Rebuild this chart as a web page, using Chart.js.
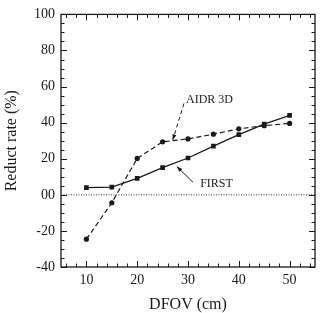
<!DOCTYPE html>
<html>
<head>
<meta charset="utf-8">
<script src="https://cdn.jsdelivr.net/npm/chart.js@4"></script>
<style>
  html, body { margin: 0; padding: 0; background: #fff; }
  #wrap { width: 322px; height: 313px; }
</style>
</head>
<body>
<div id="wrap"><canvas id="myChart"></canvas></div>
<script>
const dfov = [10, 15, 20, 25, 30, 35, 40, 45, 50];
const firstRate = [4.0, 4.3, 9.1, 15.1, 20.4, 27.0, 33.4, 39.2, 44.0];
const aidrRate = [-24.6, -4.4, 20.2, 29.4, 31.0, 33.6, 36.6, 38.3, 39.6];
const xTicks = [10, 20, 30, 40, 50];
const yTicks = [-40, -20, 0, 20, 40, 60, 80, 100];

const serif = 'Liberation Serif, Times New Roman, serif';
const ink = '#1a1a1a';

function toPoints(ys) {
    return dfov.map((x, i) => ({ x: x, y: ys[i] }));
}

function arrow(ctx, x1, y1, x2, y2, dashed) {
    ctx.save();
    ctx.strokeStyle = ink;
    ctx.fillStyle = ink;
    ctx.lineWidth = 1;
    ctx.setLineDash(dashed ? [4, 3] : []);
    ctx.beginPath();
    ctx.moveTo(x1, y1);
    ctx.lineTo(x2, y2);
    ctx.stroke();
    ctx.setLineDash([]);
    const a = Math.atan2(y2 - y1, x2 - x1);
    ctx.beginPath();
    ctx.moveTo(x2, y2);
    ctx.lineTo(x2 - 6 * Math.cos(a - 0.35), y2 - 6 * Math.sin(a - 0.35));
    ctx.lineTo(x2 - 6 * Math.cos(a + 0.35), y2 - 6 * Math.sin(a + 0.35));
    ctx.closePath();
    ctx.fill();
    ctx.restore();
}

// frame, inner ticks, zero line, labels
const framePlugin = {
    id: 'frame',
    beforeDatasetsDraw(chart) {
        const ctx = chart.ctx;
        const { left, right, top, bottom } = chart.chartArea;
        const x = chart.scales.x, y = chart.scales.y;
        ctx.save();
        // dotted zero line
        ctx.strokeStyle = '#333';
        ctx.lineWidth = 1;
        ctx.setLineDash([1, 1.5]);
        ctx.beginPath();
        ctx.moveTo(left, y.getPixelForValue(0));
        ctx.lineTo(right, y.getPixelForValue(0));
        ctx.stroke();
        ctx.restore();
    },
    afterDraw(chart) {
        const ctx = chart.ctx;
        const { left, right, top, bottom } = chart.chartArea;
        const x = chart.scales.x, y = chart.scales.y;
        ctx.save();
        ctx.strokeStyle = ink;
        ctx.lineWidth = 1.3;
        ctx.strokeRect(left, top, right - left, bottom - top);
        ctx.lineWidth = 1;
        for (let v = 6; v <= 54; v += 2) {
            const px = Math.round(x.getPixelForValue(v)) + 0.5;
            const len = v % 10 === 0 ? 6 : 3.5;
            ctx.beginPath();
            ctx.moveTo(px, bottom); ctx.lineTo(px, bottom - len);
            ctx.moveTo(px, top); ctx.lineTo(px, top + len);
            ctx.stroke();
        }
        for (let v = -40; v <= 100; v += 5) {
            const py = Math.round(y.getPixelForValue(v)) + 0.5;
            const len = v % 20 === 0 ? 6 : 3.5;
            ctx.beginPath();
            ctx.moveTo(left, py); ctx.lineTo(left + len, py);
            ctx.moveTo(right, py); ctx.lineTo(right - len, py);
            ctx.stroke();
        }
        ctx.fillStyle = ink;
        ctx.font = '12px ' + serif;
        ctx.textBaseline = 'middle';
        ctx.textAlign = 'left';
        ctx.fillText('AIDR 3D', x.getPixelForValue(29.6), y.getPixelForValue(52.9));
        ctx.fillText('FIRST', x.getPixelForValue(32.4), y.getPixelForValue(5.9));
        ctx.restore();
        arrow(ctx, x.getPixelForValue(29.2), y.getPixelForValue(50.6),
              x.getPixelForValue(27.0), y.getPixelForValue(30.4), true);
        arrow(ctx, x.getPixelForValue(31.0), y.getPixelForValue(6.9),
              x.getPixelForValue(27.8), y.getPixelForValue(15.7), false);
    }
};

new Chart(document.getElementById('myChart'), {
    type: 'line',
    data: {
        datasets: [{
            label: 'FIRST',
            data: toPoints(firstRate),
            borderColor: ink,
            backgroundColor: ink,
            borderWidth: 1.3,
            pointStyle: 'rect',
            pointRadius: 3.3,
            pointBorderWidth: 0,
            tension: 0
        }, {
            label: 'AIDR 3D',
            data: toPoints(aidrRate),
            borderColor: ink,
            backgroundColor: ink,
            borderWidth: 1.2,
            borderDash: [5, 3],
            pointStyle: 'circle',
            pointRadius: 2.6,
            pointBorderWidth: 0,
            tension: 0
        }]
    },
    plugins: [framePlugin],
    options: {
        responsive: true,
        maintainAspectRatio: false,
        animation: false,
        layout: { padding: { left: 0, right: 7, top: 11, bottom: 0 } },
        plugins: {
            legend: { display: false },
            tooltip: { enabled: false }
        },
        scales: {
            x: {
                type: 'linear',
                min: 5,
                max: 55,
                afterBuildTicks: scale => { scale.ticks = xTicks.map(v => ({ value: v })); },
                afterFit: scale => { scale.height = 46; },
                grid: { display: false, drawTicks: false },
                border: { display: false },
                ticks: {
                    padding: 5,
                    color: ink,
                    font: { family: serif, size: 14 }
                },
                title: {
                    display: true,
                    text: 'DFOV (cm)',
                    color: ink,
                    font: { family: serif, size: 16, lineHeight: 1 },
                    padding: { top: 0, bottom: 0 }
                }
            },
            y: {
                min: -40,
                max: 100,
                afterBuildTicks: scale => { scale.ticks = yTicks.map(v => ({ value: v })); },
                afterFit: scale => { scale.width = 61; },
                grid: { display: false, drawTicks: false },
                border: { display: false },
                ticks: {
                    padding: 6,
                    color: ink,
                    font: { family: serif, size: 14 },
                    callback: v => v === 0 ? '00' : String(v)
                },
                title: {
                    display: true,
                    text: 'Reduct rate (%)',
                    color: ink,
                    font: { family: serif, size: 16, lineHeight: 1 },
                    padding: { top: 4, bottom: 0 }
                }
            }
        }
    }
});
</script>
</body>
</html>
